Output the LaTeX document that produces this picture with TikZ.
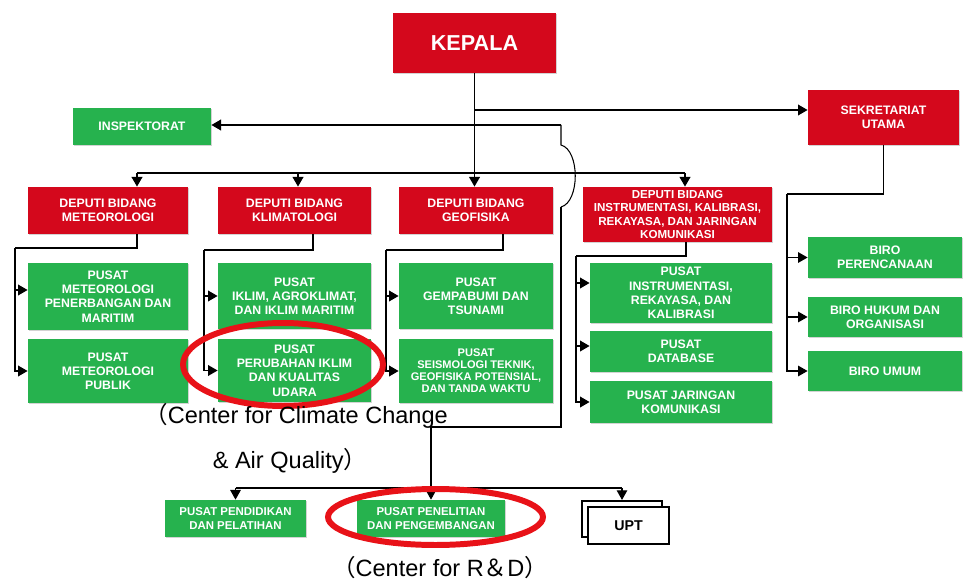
\documentclass[tikz,border=0pt]{standalone}
\usepackage{fontspec}
\setmainfont{Liberation Sans}
\newfontfamily\cjk{Noto Sans CJK SC}
\usepackage{tikz}
\usetikzlibrary{calc,shapes,arrows.meta,shadows}

\definecolor{orgred}{RGB}{212,8,28}
\definecolor{orggreen}{RGB}{38,178,78}
\definecolor{ringred}{RGB}{232,18,24}

\tikzset{
	unit/.style={inner sep=0.5pt, align=center, text=white, font=\bfseries\fontsize{7}{8.1}\selectfont, drop shadow={shadow xshift=0.7pt, shadow yshift=-0.7pt, opacity=0.35}},
	redbox/.style={unit, fill=orgred},
	greenbox/.style={unit, fill=orggreen},
	uptbox/.style={draw, fill=white, line width=1.2pt, inner sep=0.5pt, font=\bfseries\fontsize{8.1}{9}\selectfont},
	link/.style={line width=1.1pt},
	midlink/.style={line width=0.85pt},
	thinlink/.style={line width=0.6pt},
	ring/.style={draw=ringred, line width=3.4pt},
	note/.style={font=\fontsize{13.4}{16}\selectfont}
}

\begin{document}
\begin{tikzpicture}[x=0.02cm, y=-0.02cm, >={Triangle[length=5.5pt, width=6pt]}]
	\useasboundingbox (0, 0) rectangle (964, 581);

	\draw (474.5, 43) node[redbox, minimum width=3.26cm, minimum height=1.2cm, font=\bfseries\fontsize{12.3}{14}\selectfont] (kepala) {KEPALA};
	\draw (142, 126.5) node[greenbox, minimum width=2.76cm, minimum height=0.74cm] (insp) {INSPEKTORAT};
	\draw (883.5, 117.5) node[redbox, minimum width=3.02cm, minimum height=1.1cm] (sekr) {SEKRETARIAT\\UTAMA};

	\draw (108, 210.5) node[redbox, minimum width=3.2cm, minimum height=0.94cm] (dmet) {DEPUTI BIDANG\\METEOROLOGI};
	\draw (294.5, 210.5) node[redbox, minimum width=3.06cm, minimum height=0.94cm] (dkli) {DEPUTI BIDANG\\KLIMATOLOGI};
	\draw (476, 210.5) node[redbox, minimum width=3.08cm, minimum height=0.94cm] (dgeo) {DEPUTI BIDANG\\GEOFISIKA};
	\draw (677.5, 214.5) node[redbox, minimum width=3.78cm, minimum height=1.1cm, font=\bfseries\fontsize{6.6}{7.6}\selectfont] (dins) {DEPUTI BIDANG\\INSTRUMENTASI, KALIBRASI,\\REKAYASA, DAN JARINGAN\\KOMUNIKASI};

	\draw (108, 296.5) node[greenbox, minimum width=3.2cm, minimum height=1.34cm] (pmet1) {PUSAT\\METEOROLOGI\\PENERBANGAN DAN\\MARITIM};
	\draw (108, 371) node[greenbox, minimum width=3.2cm, minimum height=1.28cm] (pmet2) {PUSAT\\METEOROLOGI\\PUBLIK};
	\draw (294.5, 296) node[greenbox, minimum width=3.06cm, minimum height=1.32cm] (pkli1) {PUSAT\\IKLIM, AGROKLIMAT,\\DAN IKLIM MARITIM};
	\draw (294.5, 370.5) node[greenbox, minimum width=3.06cm, minimum height=1.26cm] (pkli2) {PUSAT\\PERUBAHAN IKLIM\\DAN KUALITAS\\UDARA};
	\draw (476, 296) node[greenbox, minimum width=3.08cm, minimum height=1.32cm] (pgeo1) {PUSAT\\GEMPABUMI DAN\\TSUNAMI};
	\draw (476, 371) node[greenbox, minimum width=3.08cm, minimum height=1.28cm, font=\bfseries\fontsize{6.3}{6.9}\selectfont] (pgeo2) {PUSAT\\SEISMOLOGI TEKNIK,\\GEOFISIKA POTENSIAL,\\DAN TANDA WAKTU};
	\draw (681, 293) node[greenbox, minimum width=3.64cm, minimum height=1.2cm] (pins1) {PUSAT\\INSTRUMENTASI,\\REKAYASA, DAN\\KALIBRASI};
	\draw (681, 351.5) node[greenbox, minimum width=3.64cm, minimum height=0.82cm] (pins2) {PUSAT\\DATABASE};
	\draw (681, 402) node[greenbox, minimum width=3.64cm, minimum height=0.84cm] (pins3) {PUSAT JARINGAN\\KOMUNIKASI};
	\draw (885, 257.5) node[greenbox, minimum width=3.08cm, minimum height=0.82cm] (biro1) {BIRO\\PERENCANAAN};
	\draw (885, 317) node[greenbox, minimum width=3.08cm, minimum height=0.8cm] (biro2) {BIRO HUKUM DAN\\ORGANISASI};
	\draw (885, 371) node[greenbox, minimum width=3.08cm, minimum height=0.8cm] (biro3) {BIRO UMUM};

	\draw (235.5, 518.5) node[greenbox, minimum width=2.82cm, minimum height=0.74cm, font=\bfseries\fontsize{6.5}{7.5}\selectfont] (pdik) {PUSAT PENDIDIKAN\\DAN PELATIHAN};
	\draw (431, 518.5) node[greenbox, minimum width=2.96cm, minimum height=0.74cm, font=\bfseries\fontsize{6.5}{7.5}\selectfont] (plit) {PUSAT PENELITIAN\\DAN PENGEMBANGAN};
	\draw (622, 519) node[uptbox, minimum width=1.6cm, minimum height=0.72cm] (uptb) {};
	\draw (628.5, 525.5) node[uptbox, minimum width=1.62cm, minimum height=0.74cm] (upt) {UPT};

	\coordinate (ksek) at (474.5, 110);
	\coordinate (brg) at (561, 125);
	\coordinate (brga) at (561, 145);
	\coordinate (brgb) at (561, 207);
	\coordinate (turn) at (561, 427);
	\coordinate (bbus) at (430, 488);
	\coordinate (dbus) at (137, 173);
	\coordinate (dbusk) at (298, 173);
	\coordinate (dbusr) at (685, 173);

	\draw[link, ->] (kepala.south) -- (kepala.south |- dgeo.north);
	\draw[link, ->] (ksek) -- (ksek -| sekr.west);
	\draw[link, ->] (brg) -- (brg -| insp.east);
	\draw[link] (dbus) -- (dbusr);
	\draw[link, ->] (dbus) -- (dbus |- dmet.north);
	\draw[link, ->] (dbusk) -- (dbusk |- dkli.north);
	\draw[link, ->] (dbusr) -- (dbusr |- dins.north);
	\draw[thinlink] (brg) -- (brga) .. controls (580, 150) and (580, 202) .. (brgb);
	\draw[link] (brgb) -- (turn) -- (turn -| plit.north);
	\draw[thinlink, ->] (turn -| plit.north) -- (plit.north);
	\draw[thinlink] (bbus -| pdik.north) -- (bbus -| uptb.north);
	\draw[thinlink, ->] (bbus -| pdik.north) -- (pdik.north);
	\draw[thinlink, ->] (bbus -| uptb.north) -- (uptb.north);

	\coordinate (metdrop) at (137, 248);
	\coordinate (metrail) at (15, 248);
	\draw[link] (metdrop |- dmet.south) -- (metdrop) -- (metrail);
	\draw[link, ->] (metrail) |- ([yshift=0.13cm]pmet1.west);
	\draw[link, ->] (metrail) |- (pmet2.west);

	\coordinate (klidrop) at (313, 250);
	\coordinate (klirail) at (204, 250);
	\draw[link] (klidrop |- dkli.south) -- (klidrop) -- (klirail);
	\draw[link, ->] (klirail) |- (pkli1.west);
	\draw[link, ->] (klirail) |- (pkli2.west);

	\coordinate (geodrop) at (503, 250);
	\coordinate (georail) at (386, 250);
	\draw[link] (geodrop |- dgeo.south) -- (geodrop) -- (georail);
	\draw[link, ->] (georail) |- (pgeo1.west);
	\draw[link, ->] (georail) |- (pgeo2.west);

	\coordinate (insdrop) at (686, 256);
	\coordinate (insrail) at (576, 256);
	\draw[link] (insdrop |- dins.south) -- (insdrop) -- (insrail);
	\draw[link, ->] (insrail) |- ([yshift=0.2cm]pins1.west);
	\draw[link, ->] (insrail) |- ([yshift=0.11cm]pins2.west);
	\draw[link, ->] (insrail) |- (pins3.west);

	\coordinate (sekrail) at (787, 194);
	\draw[midlink] (sekr.south) |- (sekrail);
	\draw[midlink, ->] (sekrail) |- (biro1.west);
	\draw[midlink, ->] (sekrail) |- (biro2.west);
	\draw[midlink, ->] (sekrail) |- (biro3.west);

	\draw[ring] (283, 364.5) ellipse [x radius=2cm, y radius=0.83cm];
	\draw[ring] (435.5, 517) ellipse [x radius=2.15cm, y radius=0.56cm];

	\draw (296, 416) node[note] (capclim) {{\cjk （}Center for Climate Change};
	\draw (290, 461) node[note] (capair) {\& Air Quality{\cjk ）}};
	\draw (440, 568) node[note] (caprd) {{\cjk （}Center for R{\cjk ＆}D{\cjk ）}};
\end{tikzpicture}
\end{document}
